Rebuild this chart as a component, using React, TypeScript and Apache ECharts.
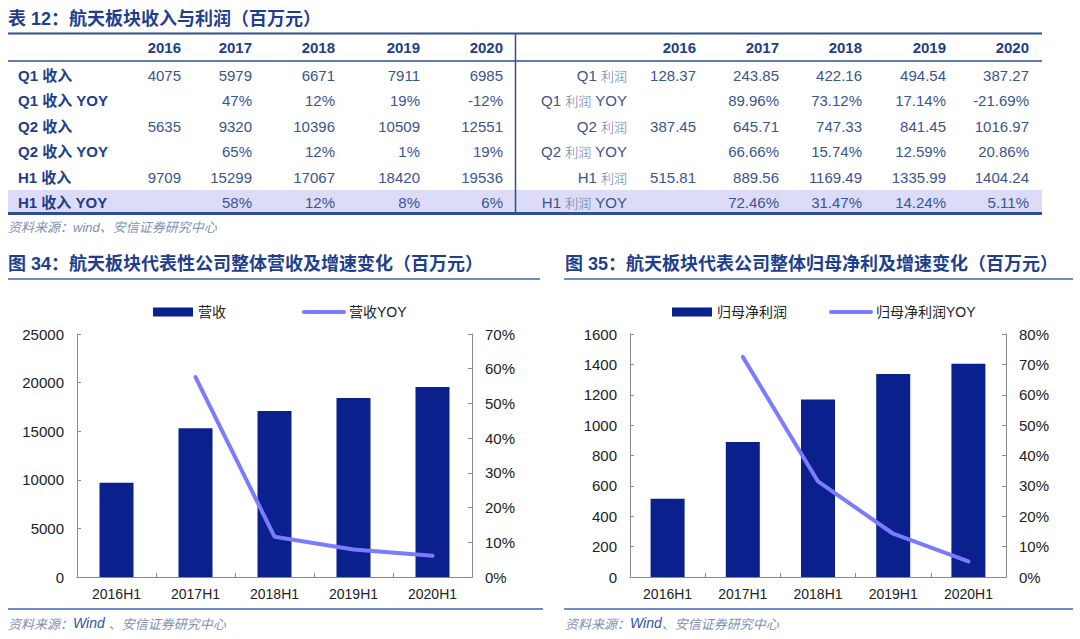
import React, { useEffect, useRef } from 'react';
import * as echarts from 'echarts';

// ---------- data ----------
const YEARS = ['2016', '2017', '2018', '2019', '2020'];
const CATS = ['2016H1', '2017H1', '2018H1', '2019H1', '2020H1'];

const REV_LABELS = ['Q1 收入', 'Q1 收入 YOY', 'Q2 收入', 'Q2 收入 YOY', 'H1 收入', 'H1 收入 YOY'];
const Q1_REV = ['4075', '5979', '6671', '7911', '6985'];
const Q1_REV_YOY = ['', '47%', '12%', '19%', '-12%'];
const Q2_REV = ['5635', '9320', '10396', '10509', '12551'];
const Q2_REV_YOY = ['', '65%', '12%', '1%', '19%'];
const H1_REV_TXT = ['9709', '15299', '17067', '18420', '19536'];
const H1_REV_YOY = ['', '58%', '12%', '8%', '6%'];

const PROFIT_LABELS = [
  ['Q1 ', '利润', ''],
  ['Q1 ', '利润', ' YOY'],
  ['Q2 ', '利润', ''],
  ['Q2 ', '利润', ' YOY'],
  ['H1 ', '利润', ''],
  ['H1 ', '利润', ' YOY'],
];
const Q1_PROFIT = ['128.37', '243.85', '422.16', '494.54', '387.27'];
const Q1_PROFIT_YOY = ['', '89.96%', '73.12%', '17.14%', '-21.69%'];
const Q2_PROFIT = ['387.45', '645.71', '747.33', '841.45', '1016.97'];
const Q2_PROFIT_YOY = ['', '66.66%', '15.74%', '12.59%', '20.86%'];
const H1_PROFIT_TXT = ['515.81', '889.56', '1169.49', '1335.99', '1404.24'];
const H1_PROFIT_YOY = ['', '72.46%', '31.47%', '14.24%', '5.11%'];

// chart series
const REVENUE_H1 = [9709, 15299, 17067, 18420, 19536];
const REVENUE_YOY = [null, 57.6, 11.6, 7.9, 6.1];
const PROFIT_H1 = [515.81, 889.56, 1169.49, 1335.99, 1404.24];
const PROFIT_YOY = [null, 72.46, 31.47, 14.24, 5.11];

// ---------- styling ----------
const FONT = '"Liberation Sans", Arial, "Noto Sans CJK SC", sans-serif';
const TITLE_BLUE = '#1F3F8E';
const HEAD_BLUE = '#1F3D8A';
const NUM_BLUE = '#3A5491';
const LINE_BLUE = '#2E4F96';
const BAR_COLOR = '#0A208C';
const YOY_COLOR = '#7B7BFF';
const AXIS_GRAY = '#8a8a8a';
const SRC_GRAY = '#7F90B4';

function txt(x: number, y: number, text: string, o: any = {}) {
  const align = o.align || 'left';
  return {
    type: 'text',
    x,
    y,
    silent: true,
    style: {
      text,
      fill: o.fill || NUM_BLUE,
      fontSize: o.fontSize || 15,
      fontFamily: o.fontFamily || FONT,
      fontWeight: o.fontWeight || 'normal',
      fontStyle: o.fontStyle || 'normal',
      align,
      textAlign: align,
      verticalAlign: 'middle',
      textVerticalAlign: 'middle',
      rich: o.rich,
    },
  };
}

function hline(x1: number, x2: number, y: number, w: number, color = LINE_BLUE) {
  return { type: 'line', silent: true, shape: { x1, y1: y, x2, y2: y }, style: { stroke: color, lineWidth: w } };
}
function vline(x: number, y1: number, y2: number, w: number, color = LINE_BLUE) {
  return { type: 'line', silent: true, shape: { x1: x, y1, x2: x, y2 }, style: { stroke: color, lineWidth: w } };
}

function buildGraphic() {
  const g: any[] = [];
  const L_COLS = [181, 252, 335, 420, 503];
  const R_COLS = [696, 779, 862, 946, 1029];
  const HEADER_Y = 47;
  const ROW_Y = [75, 100.5, 126, 151.5, 177, 202];

  // highlight band (last row)
  g.push({ type: 'rect', silent: true, shape: { x: 8, y: 190, width: 1034, height: 23 }, style: { fill: '#DCDCF8' } });

  // table title
  g.push(txt(8, 19, '表 12：航天板块收入与利润（百万元）', { fill: TITLE_BLUE, fontSize: 18, fontWeight: 'bold' }));

  // lines
  g.push(hline(8, 1042, 33.5, 2));
  g.push(hline(8, 1042, 61, 1.5));
  g.push(vline(515.5, 33, 214, 1.5));
  g.push(hline(8, 1042, 213.5, 3));

  // headers
  YEARS.forEach((y, i) => {
    g.push(txt(L_COLS[i], HEADER_Y, y, { align: 'right', fontWeight: 'bold', fill: HEAD_BLUE }));
    g.push(txt(R_COLS[i], HEADER_Y, y, { align: 'right', fontWeight: 'bold', fill: HEAD_BLUE }));
  });

  const leftRows = [Q1_REV, Q1_REV_YOY, Q2_REV, Q2_REV_YOY, H1_REV_TXT, H1_REV_YOY];
  const rightRows = [Q1_PROFIT, Q1_PROFIT_YOY, Q2_PROFIT, Q2_PROFIT_YOY, H1_PROFIT_TXT, H1_PROFIT_YOY];

  REV_LABELS.forEach((lab, r) => {
    g.push(txt(18, ROW_Y[r], lab, { fontWeight: 'bold', fill: HEAD_BLUE }));
    leftRows[r].forEach((v, i) => {
      if (v) g.push(txt(L_COLS[i], ROW_Y[r], v, { align: 'right' }));
    });
  });

  PROFIT_LABELS.forEach((parts, r) => {
    g.push(
      txt(627, ROW_Y[r], `{a|${parts[0]}}{b|${parts[1]}}{a|${parts[2]}}`, {
        align: 'right',
        rich: {
          a: { fontSize: 15, fontFamily: FONT, fill: NUM_BLUE, color: NUM_BLUE },
          b: { fontSize: 13, fontFamily: '"Noto Sans CJK SC", sans-serif', fontWeight: 300, fill: '#6476AA', color: '#6476AA' },
        },
      })
    );
    rightRows[r].forEach((v, i) => {
      if (v) g.push(txt(R_COLS[i], ROW_Y[r], v, { align: 'right' }));
    });
  });

  // table source
  g.push(txt(8, 227, '资料来源：wind、安信证券研究中心', { fontSize: 13, fontStyle: 'italic', fill: SRC_GRAY }));

  // chart titles + underlines
  g.push(txt(8, 264, '图 34：航天板块代表性公司整体营收及增速变化（百万元）', { fill: TITLE_BLUE, fontSize: 18, fontWeight: 'bold' }));
  g.push(txt(565, 264, '图 35：航天板块代表公司整体归母净利及增速变化（百万元）', { fill: TITLE_BLUE, fontSize: 18, fontWeight: 'bold' }));
  g.push(hline(8, 540, 279, 1.5, '#3C66B0'));
  g.push(hline(564, 1073, 279, 1.5, '#3C66B0'));

  // source lines
  g.push(hline(8, 543, 609, 1.5, '#3C66B0'));
  g.push(hline(564, 1073, 609, 1.5, '#3C66B0'));
  const srcRich = {
    s: { fontSize: 13, fontStyle: 'italic', fontFamily: '"Noto Sans CJK SC", sans-serif', fill: SRC_GRAY, color: SRC_GRAY },
    w: { fontSize: 14, fontStyle: 'italic', fontFamily: FONT, fill: '#2E56A6', color: '#2E56A6' },
  };
  g.push(txt(8, 623, '{s|资料来源：}{w|Wind }{s|、安信证券研究中心}', { rich: srcRich }));
  g.push(txt(565, 623, '{s|资料来源：}{w|Wind}{s|、安信证券研究中心}', { rich: srcRich }));

  return g;
}

function valueAxis(gridIndex: number, min: number, max: number, interval: number, right = false) {
  return {
    type: 'value',
    gridIndex,
    position: right ? 'right' : 'left',
    min,
    max,
    interval,
    axisLine: { show: true, lineStyle: { color: AXIS_GRAY, width: 1 } },
    axisTick: { show: true, inside: true, length: 4, lineStyle: { color: AXIS_GRAY } },
    splitLine: { show: false },
    axisLabel: {
      color: '#222',
      fontSize: 15,
      fontFamily: FONT,
      margin: 13,
      formatter: (v: number) => (right ? `${v}%` : String(v)),
    },
  };
}

function catAxis(gridIndex: number) {
  return {
    type: 'category',
    gridIndex,
    data: CATS,
    axisLine: { show: true, lineStyle: { color: AXIS_GRAY, width: 1 } },
    axisTick: { show: true, inside: true, length: 4, lineStyle: { color: AXIS_GRAY } },
    axisLabel: { color: '#222', fontSize: 14, fontFamily: FONT, margin: 10 },
  };
}

const legendCommon = {
  top: 300,
  itemWidth: 40,
  itemHeight: 9,
  textStyle: { color: '#222', fontSize: 14, fontFamily: FONT },
};

function buildOption(): any {
  return {
    animation: false,
    backgroundColor: '#fff',
    graphic: { elements: buildGraphic() },
    legend: [
      {
        ...legendCommon,
        left: 148,
        itemGap: 76,
        data: [
          { name: '营收', icon: 'rect' },
          { name: '营收YOY', itemStyle: { opacity: 0 }, lineStyle: { width: 4 } },
        ],
      },
      {
        ...legendCommon,
        left: 667,
        itemGap: 42,
        data: [
          { name: '归母净利润', icon: 'rect' },
          { name: '归母净利润YOY', itemStyle: { opacity: 0 }, lineStyle: { width: 4 } },
        ],
      },
    ],
    grid: [
      { left: 77, top: 334, width: 395, height: 243 },
      { left: 630, top: 334, width: 376, height: 243 },
    ],
    xAxis: [catAxis(0), catAxis(1)],
    yAxis: [
      valueAxis(0, 0, 25000, 5000),
      valueAxis(0, 0, 70, 10, true),
      valueAxis(1, 0, 1600, 200),
      valueAxis(1, 0, 80, 10, true),
    ],
    series: [
      {
        name: '营收',
        type: 'bar',
        xAxisIndex: 0,
        yAxisIndex: 0,
        data: REVENUE_H1,
        barWidth: 34,
        itemStyle: { color: BAR_COLOR },
      },
      {
        name: '营收YOY',
        type: 'line',
        xAxisIndex: 0,
        yAxisIndex: 1,
        data: REVENUE_YOY,
        symbol: 'none',
        lineStyle: { color: YOY_COLOR, width: 4, cap: 'round', join: 'round' },
        itemStyle: { color: YOY_COLOR },
      },
      {
        name: '归母净利润',
        type: 'bar',
        xAxisIndex: 1,
        yAxisIndex: 2,
        data: PROFIT_H1,
        barWidth: 34,
        itemStyle: { color: BAR_COLOR },
      },
      {
        name: '归母净利润YOY',
        type: 'line',
        xAxisIndex: 1,
        yAxisIndex: 3,
        data: PROFIT_YOY,
        symbol: 'none',
        lineStyle: { color: YOY_COLOR, width: 4, cap: 'round', join: 'round' },
        itemStyle: { color: YOY_COLOR },
      },
    ],
  };
}

export default function App() {
  const ref = useRef<HTMLDivElement>(null);
  useEffect(() => {
    if (!ref.current) return;
    const chart = echarts.init(ref.current, null, { renderer: 'svg' });
    chart.setOption(buildOption());
    return () => chart.dispose();
  }, []);
  return (
    <div
      ref={ref}
      style={{ position: 'absolute', left: 0, top: 0, width: 1080, height: 639, background: '#fff' }}
    />
  );
}
